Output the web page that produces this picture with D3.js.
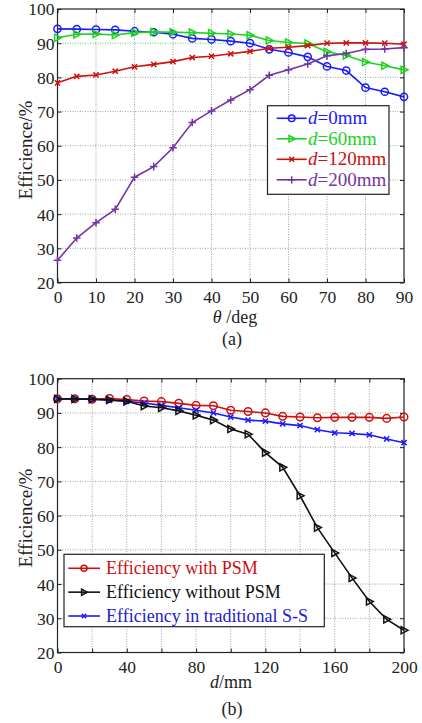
<!DOCTYPE html>
<html>
<head>
<meta charset="utf-8">
<script src="https://cdn.jsdelivr.net/npm/d3@7"></script>
<style>
  body { margin: 0; background: #fff; }
  text { font-family: "Liberation Serif", "DejaVu Serif", "Times New Roman", Times, serif; fill: #222; }
</style>
</head>
<body>
<div class="chart"></div>
<script>
// ---- data (a): efficiency vs angle for several distances
var theta = [0, 5, 10, 15, 20, 25, 30, 35, 40, 45, 50, 55, 60, 65, 70, 75, 80, 85, 90];
var effD0   = [94.2, 94.1, 94.0, 93.9, 93.5, 93.2, 92.6, 91.4, 91.1, 90.6, 90.0, 88.2, 87.3, 86.0, 83.2, 82.0, 77.0, 75.8, 74.3];
var effD60  = [91.6, 92.6, 92.7, 92.4, 93.1, 93.3, 93.2, 93.1, 92.9, 92.7, 92.3, 90.8, 90.2, 89.9, 87.5, 86.4, 84.5, 83.4, 82.2];
var effD120 = [78.4, 80.3, 80.7, 81.8, 83.1, 83.8, 84.6, 85.8, 86.2, 86.9, 87.6, 88.5, 88.8, 89.3, 90.0, 90.1, 90.1, 90.0, 89.7];
var effD200 = [26.5, 33.0, 37.5, 41.4, 50.8, 53.9, 59.4, 66.8, 70.2, 73.4, 76.4, 80.6, 82.2, 83.9, 86.3, 87.0, 88.2, 88.3, 88.7];
var legendA = ["0mm", "60mm", "120mm", "200mm"];

// ---- data (b): efficiency vs distance
var dist = [0, 10, 20, 30, 40, 50, 60, 70, 80, 90, 100, 110, 120, 130, 140, 150, 160, 170, 180, 190, 200];
var withPSM     = [94.1, 94.1, 94.0, 94.2, 93.9, 93.5, 93.3, 92.8, 92.2, 92.1, 90.8, 90.4, 90.0, 89.0, 88.8, 88.6, 88.7, 88.7, 88.7, 88.4, 88.8];
var withoutPSM  = [94.1, 94.1, 94.0, 93.8, 93.4, 92.0, 91.5, 90.6, 89.3, 87.9, 85.3, 83.8, 78.4, 74.1, 65.8, 56.5, 49.1, 41.8, 34.9, 29.7, 26.5];
var traditional = [94.1, 94.1, 94.0, 93.7, 93.4, 92.9, 92.2, 91.5, 90.8, 90.0, 88.8, 87.9, 87.6, 86.8, 86.3, 85.1, 84.2, 84.0, 83.6, 82.4, 81.3];
var legendB = ["Efficiency with PSM", "Efficiency without PSM", "Efficiency in traditional S-S"];

var yTicks = [20, 30, 40, 50, 60, 70, 80, 90, 100];
var xTicksA = [0, 10, 20, 30, 40, 50, 60, 70, 80, 90];
var xGridB = [0, 20, 40, 60, 80, 100, 120, 140, 160, 180, 200];
var xLabelsB = [0, 40, 80, 120, 160, 200];

var serif = '"Liberation Serif", "DejaVu Serif", "Times New Roman", Times, serif';

var svg = d3.select(".chart").append("svg")
  .attr("width", 422)
  .attr("height", 723)
  .attr("font-family", serif);

// marker shapes, drawn around (0,0)
function marker(g, type, color, s) {
  if (type === "circle") {
    g.append("circle").attr("r", s).attr("fill", "none").attr("stroke", color).attr("stroke-width", 1.5);
  } else if (type === "tri") {
    g.append("path").attr("d", `M${-s * 0.8},${-s}L${s * 1.1},0L${-s * 0.8},${s}Z`)
      .attr("fill", "none").attr("stroke", color).attr("stroke-width", 1.5);
  } else if (type === "x") {
    g.append("path").attr("d", `M${-s},${-s}L${s},${s}M${-s},${s}L${s},${-s}`)
      .attr("stroke", color).attr("stroke-width", 1.5);
  } else if (type === "plus") {
    g.append("path").attr("d", `M${-s},0L${s},0M0,${-s}L0,${s}`)
      .attr("stroke", color).attr("stroke-width", 1.5);
  }
}

function drawPanel(cfg) {
  var x = d3.scaleLinear().domain(cfg.xDomain).range([cfg.left, cfg.right]);
  var y = d3.scaleLinear().domain([20, 100]).range([cfg.bottom, cfg.top]);
  var g = svg.append("g");

  // grid
  g.selectAll(null).data(cfg.xGrid.slice(1, -1)).enter().append("line")
    .attr("x1", d => x(d)).attr("x2", d => x(d))
    .attr("y1", cfg.top).attr("y2", cfg.bottom)
    .attr("stroke", "#8a8a8a").attr("stroke-width", 0.8).attr("stroke-dasharray", "1,1.5");
  g.selectAll(null).data(yTicks.slice(1, -1)).enter().append("line")
    .attr("x1", cfg.left).attr("x2", cfg.right)
    .attr("y1", d => y(d)).attr("y2", d => y(d))
    .attr("stroke", d => (cfg.greenLine && d === 90) ? "#22cc22" : "#8a8a8a")
    .attr("stroke-width", 0.8).attr("stroke-dasharray", "1,1.5");

  // axes with inward ticks
  var bottomAxis = d3.axisBottom(x).tickValues(cfg.xGrid).tickSizeInner(-4).tickSizeOuter(0)
    .tickFormat(d => cfg.xLabels.indexOf(d) >= 0 ? d : "");
  var leftAxis = d3.axisLeft(y).tickValues(yTicks).tickSizeInner(-4).tickSizeOuter(0);
  var topAxis = d3.axisTop(x).tickValues(cfg.xGrid).tickSizeInner(-4).tickSizeOuter(0).tickFormat("");
  var rightAxis = d3.axisRight(y).tickValues(yTicks).tickSizeInner(-4).tickSizeOuter(0).tickFormat("");

  var gb = g.append("g").attr("transform", `translate(0,${cfg.bottom})`).call(bottomAxis);
  var gl = g.append("g").attr("transform", `translate(${cfg.left},0)`).call(leftAxis);
  var gt = g.append("g").attr("transform", `translate(0,${cfg.top})`).call(topAxis);
  var gr = g.append("g").attr("transform", `translate(${cfg.right},0)`).call(rightAxis);
  [gb, gl, gt, gr].forEach(function(ag) {
    ag.attr("font-family", serif).attr("font-size", 17.5);
    ag.select(".domain").remove();
    ag.selectAll("line").attr("stroke", "#222");
    ag.selectAll("text").attr("fill", "#222").style("font-family", serif);
  });
  gb.selectAll("text").attr("y", 0).attr("dy", "1.15em");
  gl.selectAll("text").attr("x", -3).attr("dy", "0.34em");

  g.append("rect")
    .attr("x", cfg.left).attr("y", cfg.top)
    .attr("width", cfg.right - cfg.left).attr("height", cfg.bottom - cfg.top)
    .attr("fill", "none").attr("stroke", "#222").attr("stroke-width", 1.2);

  // series
  var line = d3.line().x(d => x(d[0])).y(d => y(d[1]));
  cfg.series.forEach(function(s) {
    var pts = cfg.xs.map((v, i) => [v, s.values[i]]);
    g.append("path").datum(pts).attr("d", line)
      .attr("fill", "none").attr("stroke", s.color).attr("stroke-width", 1.6);
    g.selectAll(null).data(pts).enter().append("g")
      .attr("transform", d => `translate(${x(d[0])},${y(d[1])})`)
      .each(function() { marker(d3.select(this), s.marker, s.color, s.size); });
  });

  // y label
  svg.append("text")
    .attr("transform", `translate(${cfg.yLabelX},${cfg.yLabelY}) rotate(-90)`)
    .attr("text-anchor", "middle").attr("font-size", 19)
    .text("Efficience/%");

  return { x: x, y: y };
}

// ---------- panel (a)
drawPanel({
  left: 57.5, right: 404, top: 9, bottom: 282.5,
  xDomain: [0, 90], xGrid: xTicksA, xLabels: xTicksA, xs: theta, greenLine: true,
  yLabelX: 32, yLabelY: 150,
  series: [
    { values: effD0, color: "#1a1aff", marker: "circle", size: 3.6 },
    { values: effD60, color: "#1ed21e", marker: "tri", size: 3.6 },
    { values: effD120, color: "#cc1111", marker: "x", size: 2.6 },
    { values: effD200, color: "#7434a4", marker: "plus", size: 3.8 }
  ]
});

var xLabA = svg.append("text").attr("x", 235).attr("y", 323).attr("text-anchor", "middle").attr("font-size", 18);
xLabA.append("tspan").attr("font-style", "italic").text("θ");
xLabA.append("tspan").text(" /deg");
svg.append("text").attr("x", 232).attr("y", 345).attr("text-anchor", "middle").attr("font-size", 18).text("(a)");

// legend (a)
var colorsA = ["#1a1aff", "#1ed21e", "#cc1111", "#7434a4"];
var markersA = ["circle", "tri", "x", "plus"];
var sizesA = [3.3, 3.3, 2.4, 3.6];
var legA = svg.append("g");
legA.append("rect").attr("x", 267.5).attr("y", 105.7).attr("width", 121.5).attr("height", 88.6)
  .attr("fill", "#fff").attr("stroke", "#222").attr("stroke-width", 1.2);
legendA.forEach(function(lbl, i) {
  var yy = 118.3 + i * 20.5;
  legA.append("line").attr("x1", 276.7).attr("x2", 306.7).attr("y1", yy).attr("y2", yy)
    .attr("stroke", colorsA[i]).attr("stroke-width", 1.6);
  marker(legA.append("g").attr("transform", `translate(291.7,${yy})`), markersA[i], colorsA[i], sizesA[i]);
  var t = legA.append("text").attr("x", 308).attr("y", yy + 6).attr("font-size", 19).style("fill", colorsA[i]);
  t.append("tspan").attr("font-style", "italic").text("d");
  t.append("tspan").text("=" + lbl);
});

// ---------- panel (b)
drawPanel({
  left: 57.5, right: 404, top: 378.7, bottom: 652.5,
  xDomain: [0, 200], xGrid: xGridB, xLabels: xLabelsB, xs: dist, greenLine: false,
  yLabelX: 32, yLabelY: 518,
  series: [
    { values: withPSM, color: "#cc1111", marker: "circle", size: 3.8 },
    { values: traditional, color: "#1a1aff", marker: "x", size: 2.6 },
    { values: withoutPSM, color: "#111", marker: "tri", size: 3.6 }
  ]
});

var xLabB = svg.append("text").attr("x", 231).attr("y", 688).attr("text-anchor", "middle").attr("font-size", 18);
xLabB.append("tspan").attr("font-style", "italic").text("d");
xLabB.append("tspan").text("/mm");
svg.append("text").attr("x", 232).attr("y", 715).attr("text-anchor", "middle").attr("font-size", 18).text("(b)");

// legend (b)
var colorsB = ["#cc1111", "#111", "#1a1aff"];
var textColorsB = ["#cc1111", "#111", "#2222cc"];
var markersB = ["circle", "tri", "x"];
var sizesB = [3, 3, 2.2];
var legB = svg.append("g");
legB.append("rect").attr("x", 64).attr("y", 554.3).attr("width", 260.3).attr("height", 72.4)
  .attr("fill", "#fff").attr("stroke", "#222").attr("stroke-width", 1.2);
legendB.forEach(function(lbl, i) {
  var yy = 568.3 + i * 23.85;
  legB.append("line").attr("x1", 68.3).attr("x2", 100).attr("y1", yy).attr("y2", yy)
    .attr("stroke", colorsB[i]).attr("stroke-width", 1.6);
  marker(legB.append("g").attr("transform", `translate(84,${yy})`), markersB[i], colorsB[i], sizesB[i]);
  legB.append("text").attr("x", 106).attr("y", yy + 6).attr("font-size", 18).style("fill", textColorsB[i]).text(lbl);
});
</script>
</body>
</html>
